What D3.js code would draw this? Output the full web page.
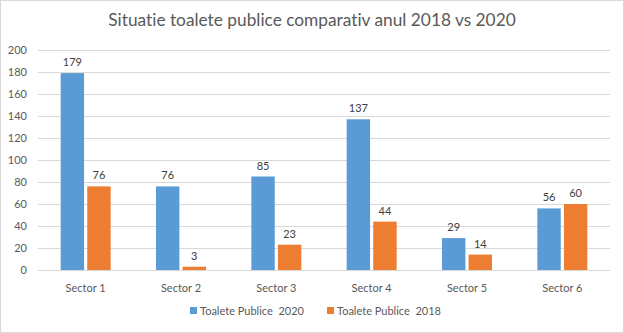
<!DOCTYPE html>
<html><head><meta charset="utf-8">
<script src="https://cdn.jsdelivr.net/npm/d3@7"></script>
<style>body{margin:0;background:#fff}svg{display:block}text{font-family:Lato,"Open Sans",sans-serif;font-variant-ligatures:none}</style>
</head><body><svg id="c" width="624" height="333"></svg>
<script>
const categories = ["Sector 1","Sector 2","Sector 3","Sector 4","Sector 5","Sector 6"];
const seriesNames = ["Toalete Publice  2020","Toalete Publice  2018"];
const values2020 = [179,76,85,137,29,56];
const values2018 = [76,3,23,44,14,60];
const yTicks = [0,20,40,60,80,100,120,140,160,180,200];
const colors = ["#5B9BD5","#ED7D31"];
const title = "Situatie toalete publice comparativ anul 2018 vs 2020";

(function(){
const svg = d3.select("#c");
svg.append("rect").attr("x",0.5).attr("y",0.5).attr("width",623).attr("height",332)
  .attr("fill","#fff").attr("stroke","#d9d9d9");
svg.append("text").attr("x",312).attr("y",26).attr("text-anchor","middle")
  .attr("font-size",17.3).attr("fill","#595959").text(title);

const pl=38,pr=610,pt=50,pb=270;
const x = d3.scaleBand().domain(categories).range([pl,pr]);
const xi = d3.scaleBand().domain([0,1]).range([x.bandwidth()/2-25,x.bandwidth()/2+25]).paddingInner(0.12);
const y = d3.scaleLinear().domain([0,200]).range([pb,pt]);

const grid = svg.append("g");
yTicks.forEach(t=>{
  grid.append("line").attr("x1",pl).attr("x2",pr).attr("y1",Math.round(y(t))+0.5).attr("y2",Math.round(y(t))+0.5)
    .attr("stroke","#d9d9d9").attr("stroke-width",1);
});
const ya = svg.append("g").attr("transform",`translate(${pl-4},0)`)
  .call(d3.axisLeft(y).tickValues(yTicks).tickSize(0).tickPadding(7));
ya.select(".domain").remove();
ya.selectAll("text").attr("font-size",11).attr("fill","#595959").attr("font-family","Lato,sans-serif");

const xa = svg.append("g").attr("transform",`translate(0,${pb})`)
  .call(d3.axisBottom(x).tickSize(0).tickPadding(14));
xa.select(".domain").remove();
xa.selectAll("text").attr("font-size",11).attr("fill","#595959").attr("font-family","Lato,sans-serif");

const series=[values2020,values2018];
series.forEach((vals,si)=>{
  const g=svg.append("g");
  g.selectAll("rect").data(vals).join("rect")
    .attr("x",(d,i)=>x(categories[i])+xi(si)).attr("width",xi.bandwidth())
    .attr("y",d=>y(d)).attr("height",d=>y(0)-y(d)).attr("fill",colors[si]);
  g.selectAll("text").data(vals).join("text")
    .attr("x",(d,i)=>x(categories[i])+xi(si)+xi.bandwidth()/2).attr("y",d=>y(d)-7)
    .attr("text-anchor","middle").attr("font-size",11).attr("fill","#404040").text(d=>d);
});

const leg = svg.append("g");
const legX=[190,327];
seriesNames.forEach((n,i)=>{
  leg.append("rect").attr("x",legX[i]).attr("y",307).attr("width",7).attr("height",7).attr("fill",colors[i]);
  leg.append("text").attr("x",legX[i]+10).attr("y",315).attr("font-size",11).attr("fill","#595959").style("white-space","pre").text(n);
});
})();
</script></body></html>
